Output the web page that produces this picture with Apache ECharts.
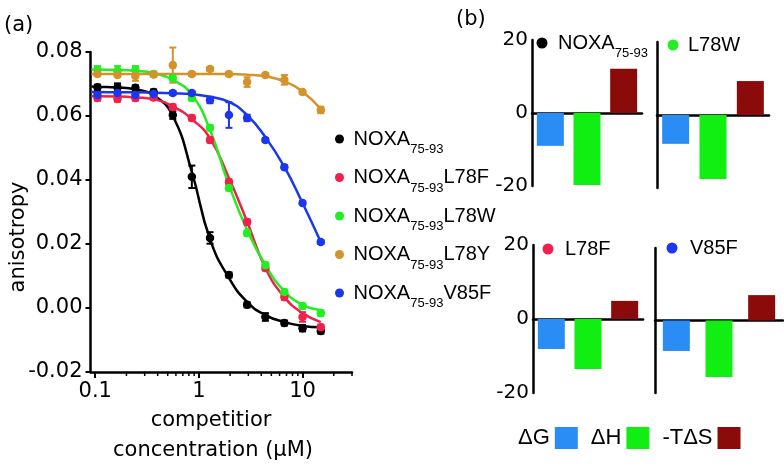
<!DOCTYPE html>
<html><head><meta charset="utf-8">
<script src="https://cdn.jsdelivr.net/npm/echarts@6/dist/echarts.min.js"></script>
<style>html,body{margin:0;padding:0;background:#fff}#c{width:784px;height:467px}</style>
</head><body><div id="c"></div>
<script>
// ---------- Panel (a) data ----------
const conc = [0.105, 0.164, 0.244, 0.366, 0.56, 0.855, 1.28, 1.95, 2.92, 4.38, 6.68, 10, 15];
const fitX = [0.092, 0.105, 0.164, 0.244, 0.366, 0.56, 0.855, 1.28, 1.95, 2.92, 4.38, 6.68, 10, 15];
const seriesNames = ['NOXA75-93', 'NOXA75-93L78F', 'NOXA75-93L78W', 'NOXA75-93L78Y', 'NOXA75-93V85F'];

const ptsNOXA = [0.069, 0.069, 0.0688, 0.0675, 0.0603, 0.041, 0.0219, 0.0103, 0.001, -0.0028, -0.0047, -0.0063, -0.0072];
const ptsL78F = [0.0656, 0.0653, 0.0656, 0.0658, 0.0628, 0.0594, 0.0525, 0.0394, 0.0269, 0.0125, 0.0034, -0.0028, -0.006];
const ptsL78W = [0.0744, 0.0741, 0.0744, 0.0731, 0.0719, 0.0656, 0.0563, 0.0375, 0.0234, 0.0134, 0.005, 0.0006, -0.0016];
const ptsL78Y = [0.0731, 0.0728, 0.0725, 0.073, 0.0759, 0.0731, 0.0747, 0.0731, 0.0706, 0.0728, 0.0713, 0.0675, 0.0619];
const ptsV85F = [0.0666, 0.0672, 0.0666, 0.0669, 0.0672, 0.0672, 0.065, 0.0603, 0.0594, 0.0525, 0.044, 0.0328, 0.0206];

const errNOXA = [0.0008, 0.0012, 0.0008, 0.0008, 0.0012, 0.0035, 0.0018, 0.0008, 0.0008, 0.0012, 0.0008, 0.001, 0.0008];
const errL78F = [0.0008, 0.0008, 0.0008, 0.0008, 0.0008, 0.0008, 0.0008, 0.0008, 0.0008, 0.0008, 0.0008, 0.0015, 0.0008];
const errL78W = [0.0012, 0.0015, 0.0012, 0.0008, 0.0008, 0.0008, 0.0008, 0.0008, 0.0008, 0.0008, 0.0008, 0.0008, 0.0008];
const errL78Y = [0.0006, 0.0006, 0.0015, 0.0006, 0.0055, 0.0006, 0.0006, 0.0006, 0.0015, 0.0006, 0.0015, 0.0006, 0.001];
const errV85F = [0.0006, 0.0006, 0.0006, 0.0006, 0.0006, 0.0006, 0.001, 0.004, 0.001, 0.0006, 0.0006, 0.0006, 0.0006];

const fitNOXA = [0.0692, 0.0691, 0.0689, 0.0683, 0.0665, 0.060, 0.0425, 0.0215, 0.0094, 0.0019, -0.0022, -0.0044, -0.0056, -0.006];
const fitL78F = [0.0662, 0.0662, 0.0661, 0.0658, 0.0652, 0.063, 0.059, 0.053, 0.0406, 0.027, 0.0125, 0.0034, -0.0016, -0.0044];
const fitL78W = [0.0745, 0.0745, 0.0744, 0.0741, 0.0734, 0.0713, 0.0666, 0.0556, 0.0384, 0.0244, 0.0134, 0.0053, 0.001, -0.0006];
const fitL78Y = [0.0731, 0.0731, 0.0731, 0.0731, 0.0731, 0.0731, 0.0731, 0.0731, 0.0731, 0.0729, 0.0724, 0.0708, 0.0676, 0.0622];
const fitV85F = [0.0675, 0.0675, 0.0674, 0.0674, 0.0673, 0.0671, 0.0668, 0.066, 0.0644, 0.0603, 0.0534, 0.0441, 0.0328, 0.0206];

const xMajorTicks = [0.1, 1, 10];
const xMinorTicks = [0.2, 0.3, 0.4, 0.5, 0.6, 0.7, 0.8, 0.9, 2, 3, 4, 5, 6, 7, 8, 9, 20, 30];

// ---------- Panel (b) data ----------
const panelNames = ['NOXA75-93', 'L78W', 'L78F', 'V85F'];
const thermoNames = ['ΔG', 'ΔH', '-TΔS'];
const dG = [-9.0, -7.9, -8.1, -8.4];
const dH = [-19.7, -17.5, -13.5, -15.6];
const mTdS = [12.1, 9.3, 4.9, 7.0];

// ---------- styles ----------
const lineColors = ['#000000', '#f0204a', '#22ee22', '#d4922a', '#1a36ee'];
const barColors = ['#2a8cf5', '#11ee11', '#8b0a0a'];
const panelDotColors = ['#000000', '#22ee22', '#f0204a', '#1a36ee'];
const DJ = 'DejaVu Sans', LS = 'Liberation Sans';

const pts = [ptsNOXA, ptsL78F, ptsL78W, ptsL78Y, ptsV85F];
const errs = [errNOXA, errL78F, errL78W, errL78Y, errV85F];
const fits = [fitNOXA, fitL78F, fitL78W, fitL78Y, fitV85F];

const series = [];
seriesNames.forEach((name, k) => {
  series.push({
    type: 'line', name, xAxisIndex: 0, yAxisIndex: 0,
    data: fitX.map((x, i) => [x, fits[k][i]]),
    smooth: 0.5, showSymbol: false, symbol: 'none',
    lineStyle: { color: lineColors[k], width: 2.5 }, itemStyle: { color: lineColors[k] }, z: 2
  });
  series.push({
    type: 'custom', name, xAxisIndex: 0, yAxisIndex: 0,
    data: conc.map((x, i) => [x, pts[k][i], errs[k][i]]),
    encode: { x: 0, y: 1 },
    renderItem: (p, api) => {
      const x = api.value(0), y = api.value(1), e = api.value(2);
      const a = api.coord([x, y + e]), b = api.coord([x, y - e]);
      const st = { stroke: lineColors[k], lineWidth: 2 };
      return { type: 'group', children: [
        { type: 'line', shape: { x1: a[0], y1: a[1], x2: b[0], y2: b[1] }, style: st },
        { type: 'line', shape: { x1: a[0] - 3.5, y1: a[1], x2: a[0] + 3.5, y2: a[1] }, style: st },
        { type: 'line', shape: { x1: b[0] - 3.5, y1: b[1], x2: b[0] + 3.5, y2: b[1] }, style: st }
      ]};
    }, z: 3, silent: true
  });
  series.push({
    type: 'scatter', name, xAxisIndex: 0, yAxisIndex: 0,
    data: conc.map((x, i) => [x, pts[k][i]]),
    symbol: 'circle', symbolSize: 8.5, itemStyle: { color: lineColors[k], opacity: 1 }, z: 4
  });
});
// minor ticks of the log axis
series.push({
  type: 'custom', xAxisIndex: 0, yAxisIndex: 0, silent: true, clip: false,
  data: xMinorTicks.map(v => [v, -0.02]),
  encode: { x: 0, y: 1 },
  renderItem: (p, api) => {
    const c = api.coord([api.value(0), api.value(1)]);
    return { type: 'line', shape: { x1: c[0], y1: c[1], x2: c[0], y2: c[1] + 4 }, style: { stroke: '#000', lineWidth: 1.5 } };
  }
});

const bGrids = [
  { left: 532, top: 40, width: 110, height: 146 },
  { left: 657, top: 42, width: 112, height: 146 },
  { left: 533, top: 245, width: 110, height: 148 },
  { left: 655, top: 248, width: 128, height: 145 }
];
const bVals = [dG, dH, mTdS];
const xAxes = [{
  type: 'log', logBase: 10, gridIndex: 0, min: 0.09, max: 30,
  axisLine: { show: true, onZero: false, lineStyle: { color: '#000', width: 2.5 } },
  axisTick: { show: true, length: 6, inside: false, customValues: xMajorTicks, lineStyle: { color: '#000', width: 2 } },
  minorTick: { show: false },
  axisLabel: { customValues: xMajorTicks, formatter: v => String(v), fontFamily: DJ, fontSize: 21, color: '#000', margin: 9 },
  splitLine: { show: false }
}];
const yAxes = [{
  type: 'value', gridIndex: 0, min: -0.02, max: 0.08, interval: 0.02,
  axisLine: { show: true, lineStyle: { color: '#000', width: 2.5 } },
  axisTick: { show: true, length: 5, lineStyle: { color: '#000', width: 2 } },
  axisLabel: { formatter: v => v.toFixed(2), fontFamily: DJ, fontSize: 21, color: '#000', margin: 8 },
  splitLine: { show: false }
}];
bGrids.forEach((g, gi) => {
  xAxes.push({
    type: 'category', gridIndex: gi + 1, data: thermoNames,
    axisLine: { show: true, onZero: true, lineStyle: { color: '#000', width: 2.5 } },
    axisTick: { show: false }, axisLabel: { show: false }, splitLine: { show: false }
  });
  yAxes.push({
    type: 'value', gridIndex: gi + 1, min: -20, max: 20, interval: 20,
    axisLine: { show: true, lineStyle: { color: '#000', width: 2.5 } },
    axisTick: { show: false }, splitLine: { show: false },
    axisLabel: { show: gi % 2 === 0, fontFamily: DJ, fontSize: 20, color: '#000', margin: 4 }
  });
  thermoNames.forEach((tn, q) => {
    series.push({
      type: 'bar', name: tn, xAxisIndex: gi + 1, yAxisIndex: gi + 1,
      data: thermoNames.map((_, j) => j === q ? bVals[q][gi] : '-'),
      barWidth: 27, barGap: '-100%', itemStyle: { color: barColors[q] }, z: 1
    });
  });
});

const subRich = {
  m: { fontSize: 20, fontFamily: LS, lineHeight: 34, verticalAlign: 'middle', color: '#000' },
  s: { fontSize: 13, fontFamily: LS, verticalAlign: 'bottom', color: '#000' }
};
function richName(n) {
  if (n.indexOf('75-93') < 0) return '{m|' + n + '}';
  const parts = n.split('75-93');
  return '{m|' + parts[0] + '}{s|75-93}' + (parts[1] ? '{m|' + parts[1] + '}' : '');
}

const graphic = [
  { type: 'text', x: 4, y: 26, style: { text: '(a)', font: '21px "DejaVu Sans"', fill: '#000', verticalAlign: 'middle', align: 'left' } },
  { type: 'text', x: 456, y: 20, style: { text: '(b)', font: '21px "DejaVu Sans"', fill: '#000', verticalAlign: 'middle', align: 'left' } },
  { type: 'text', x: 19, y: 237, rotation: Math.PI / 2, style: { text: 'anisotropy', font: '21px "DejaVu Sans"', fill: '#000', verticalAlign: 'middle', align: 'center' } },
  { type: 'text', x: 211, y: 421, style: { text: 'competitior', font: '21px "DejaVu Sans"', fill: '#000', verticalAlign: 'middle', align: 'center' } },
  { type: 'text', x: 213, y: 451, style: { text: 'concentration (μM)', font: '21px "DejaVu Sans"', fill: '#000', verticalAlign: 'middle', align: 'center' } }
];
const titlePos = [[542, 43, 558], [673, 45, 688], [548, 249, 565], [672, 248, 690]];
panelNames.forEach((n, i) => {
  const [dx, dy, tx] = titlePos[i];
  graphic.push({ type: 'circle', shape: { cx: dx, cy: dy, r: 5.5 }, style: { fill: panelDotColors[i] } });
  graphic.push({ type: 'text', x: tx, y: dy, style: { text: richName(n), rich: subRich, verticalAlign: 'middle', align: 'left' } });
});

const option = {
  animation: false,
  backgroundColor: '#fff',
  grid: [{ left: 90.5, top: 52, width: 261.5, height: 320 }].concat(bGrids),
  xAxis: xAxes,
  yAxis: yAxes,
  legend: [
    {
      data: seriesNames, orient: 'vertical', left: 330, top: 124, itemGap: 11.5,
      icon: 'circle', itemWidth: 18, itemHeight: 9, selectedMode: false,
      formatter: richName, textStyle: { rich: subRich, color: '#000' }
    },
    {
      data: thermoNames, orient: 'horizontal', left: 513, top: 422, align: 'right', itemGap: 13,
      icon: 'rect', itemWidth: 23, itemHeight: 22, selectedMode: false,
      textStyle: { fontFamily: LS, fontSize: 22, color: '#000' }
    }
  ],
  graphic,
  series
};
const chart = echarts.init(document.getElementById('c'));
chart.setOption(option);
</script>
</body></html>
